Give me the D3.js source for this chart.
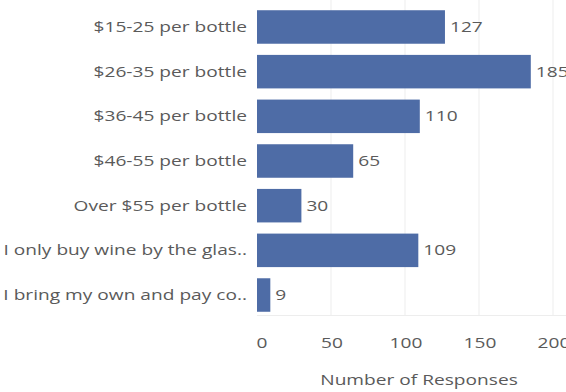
<!DOCTYPE html>
<html>
<head>
<meta charset="utf-8">
<script src="https://cdn.jsdelivr.net/npm/d3@7"></script>
<style>
  html, body { margin: 0; padding: 0; background: #fff; overflow: hidden; }
  svg { display: block; }
  text { font-family: "Open Sans", "DejaVu Sans", sans-serif; fill: #5a5a5a; }
</style>
</head>
<body>
<svg id="chart" width="566" height="392"></svg>
<script>
// Survey answers: how much people spend on wine
const categories = [
  "$15-25 per bottle",
  "$26-35 per bottle",
  "$36-45 per bottle",
  "$46-55 per bottle",
  "Over $55 per bottle",
  "I only buy wine by the glas..",
  "I bring my own and pay co.."
];
const responses = [127, 185, 110, 65, 30, 109, 9];
const xTicks = [0, 50, 100, 150, 200];

const svg = d3.select("#chart");
const W = 566, H = 392;
const plotLeft = 257, plotBottom = 315;
const FS = 14.5;   // font size
const SX = 1.32;   // wide lettering

const x = d3.scaleLinear().domain([0, 200]).range([plotLeft, plotLeft + 296]);
const y = d3.scaleBand()
  .domain(categories)
  .range([0, 322])
  .paddingInner(0.25)
  .paddingOuter(0.229);

// places a wide text label at (px, py)
function wide(sel, px, py) {
  sel.attr("transform", (d, i) => `translate(${px(d, i)},${py(d, i)}) scale(${SX},1)`)
     .attr("font-size", FS);
}

// vertical gridlines
svg.append("g")
  .selectAll("line")
  .data(xTicks.slice(1))
  .join("line")
  .attr("x1", d => x(d)).attr("x2", d => x(d))
  .attr("y1", 0).attr("y2", plotBottom)
  .attr("stroke", "#ededed").attr("stroke-width", 1);

// baseline under the plot
svg.append("line")
  .attr("x1", plotLeft).attr("x2", W)
  .attr("y1", plotBottom + 0.5).attr("y2", plotBottom + 0.5)
  .attr("stroke", "#ededed");

// bars
svg.append("g")
  .selectAll("rect")
  .data(responses)
  .join("rect")
  .attr("x", x(0))
  .attr("y", (d, i) => y(categories[i]))
  .attr("width", d => x(d) - x(0))
  .attr("height", y.bandwidth())
  .attr("fill", "#4e6ca6");

// value labels
svg.append("g")
  .selectAll("text")
  .data(responses)
  .join("text")
  .attr("dy", "0.35em")
  .text(d => d)
  .call(wide, d => x(d) + 5, (d, i) => y(categories[i]) + y.bandwidth() / 2);

// category labels
svg.append("g")
  .selectAll("text")
  .data(categories)
  .join("text")
  .attr("dy", "0.35em")
  .attr("text-anchor", "end")
  .text(d => d)
  .call(wide, () => 247, d => y(d) + y.bandwidth() / 2);

// x axis tick labels
const xAxis = d3.axisBottom(x).tickValues(xTicks).tickSize(0).tickPadding(0);
const gx = svg.append("g").call(xAxis);
gx.select(".domain").remove();
gx.attr("font-size", null).attr("font-family", null);
gx.selectAll(".tick").attr("transform", null);
gx.selectAll(".tick text")
  .attr("y", null)
  .attr("dy", "0.35em")
  .attr("fill", "#5a5a5a")
  .call(wide, d => x(d) + (d === 0 ? 5 : 1), () => 343);

// axis title
svg.append("text")
  .attr("text-anchor", "middle")
  .attr("dy", "0.35em")
  .attr("fill", "#333")
  .text("Number of Responses")
  .call(wide, () => x(100) + 14, () => 380);
</script>
</body>
</html>
